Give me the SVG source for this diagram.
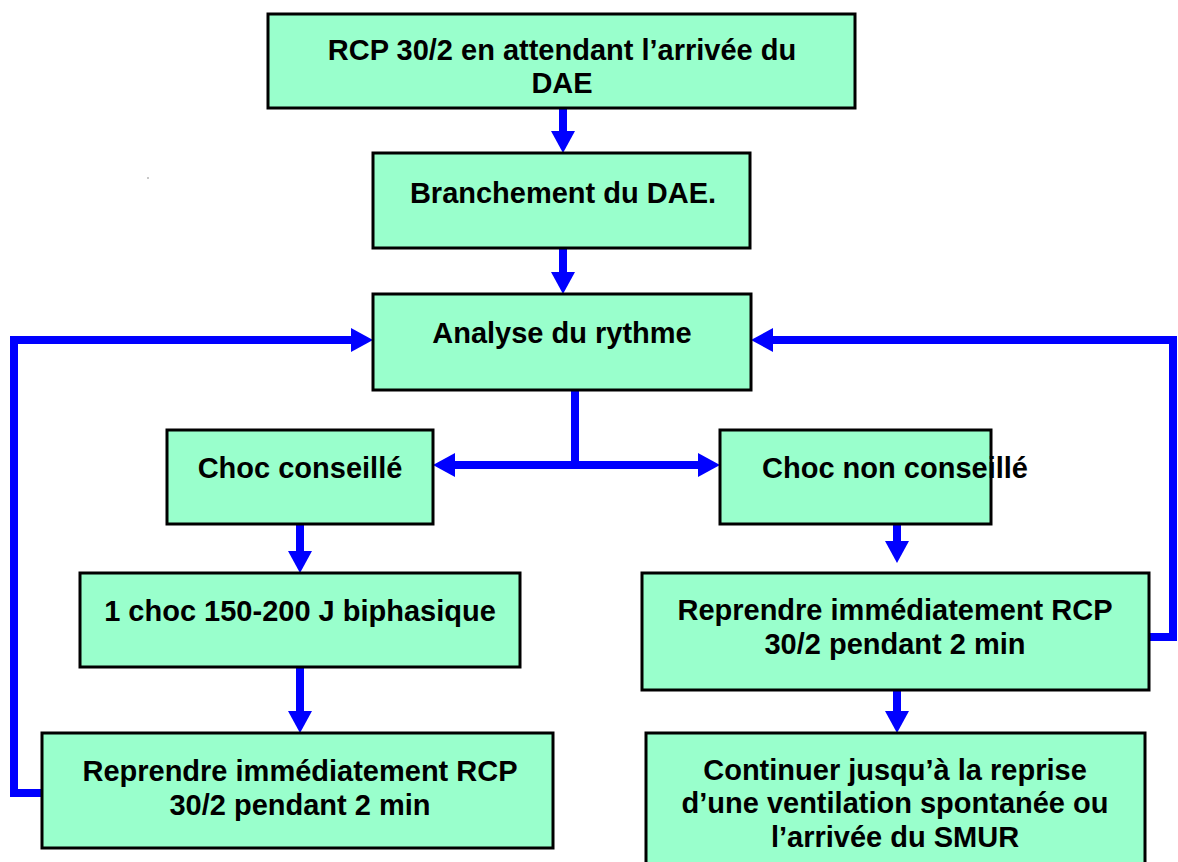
<svg xmlns="http://www.w3.org/2000/svg" width="1178" height="862" viewBox="0 0 1178 862">
<style>
.box{fill:#99FFCC;stroke:#000;stroke-width:3}
.t{font-family:"Liberation Sans",Arial,sans-serif;font-weight:bold;font-size:29px;fill:#000;text-anchor:middle}
.c{fill:none;stroke:#0000FF;stroke-width:8;marker-end:url(#ah)}
.l{fill:none;stroke:#0000FF;stroke-width:8}
</style>
<defs>
<marker id="ah" viewBox="0 0 22 24" refX="0" refY="12" markerWidth="22" markerHeight="24" orient="auto" markerUnits="userSpaceOnUse">
<path d="M0,0 L22,12 L0,24 z" fill="#0000FF"/>
</marker>
</defs>
<rect width="1178" height="862" fill="#fff"/>
<circle cx="148" cy="178" r="0.7" fill="#666"/>
<g id="connectors">
<path class="c" d="M563,108 V131"/>
<path class="c" d="M563,248 V272"/>
<path class="c" d="M42,793 H14 V340 H351"/>
<path class="c" d="M1149,637 H1173 V340 H773"/>
<path class="l" d="M575,390 V465"/>
<path class="c" d="M579,465 H455"/>
<path class="c" d="M571,465 H698"/>
<path class="c" d="M300,524 V551"/>
<path class="c" d="M300,667 V711"/>
<path class="c" d="M897,524 V541"/>
<path class="c" d="M897,690 V711"/>
</g>
<g id="n1"><rect class="box" x="268" y="14" width="587" height="94"/><text class="t" x="562" y="60">RCP 30/2 en attendant l’arrivée du</text><text class="t" x="562" y="93">DAE</text></g>
<g id="n2"><rect class="box" x="373" y="153" width="377" height="95"/><text class="t" x="563" y="203">Branchement du DAE.</text></g>
<g id="n3"><rect class="box" x="373" y="294" width="378" height="96"/><text class="t" x="562" y="343">Analyse du rythme</text></g>
<g id="n4"><rect class="box" x="167" y="430" width="266" height="94"/><text class="t" x="300" y="478">Choc conseillé</text></g>
<g id="n5"><rect class="box" x="720" y="430" width="271" height="94"/><text class="t" x="895" y="478">Choc non conseillé</text></g>
<g id="n6"><rect class="box" x="80" y="573" width="440" height="94"/><text class="t" x="300" y="621">1 choc 150-200 J biphasique</text></g>
<g id="n7"><rect class="box" x="642" y="573" width="507" height="117"/><text class="t" x="895" y="620">Reprendre immédiatement RCP</text><text class="t" x="895" y="654">30/2 pendant 2 min</text></g>
<g id="n8"><rect class="box" x="42" y="733" width="511" height="115"/><text class="t" x="300" y="781">Reprendre immédiatement RCP</text><text class="t" x="300" y="815">30/2 pendant 2 min</text></g>
<g id="n9"><rect class="box" x="646" y="733" width="499" height="140"/><text class="t" x="895" y="780">Continuer jusqu’à la reprise</text><text class="t" x="895" y="813">d’une ventilation spontanée ou</text><text class="t" x="895" y="847">l’arrivée du SMUR</text></g>
</svg>
